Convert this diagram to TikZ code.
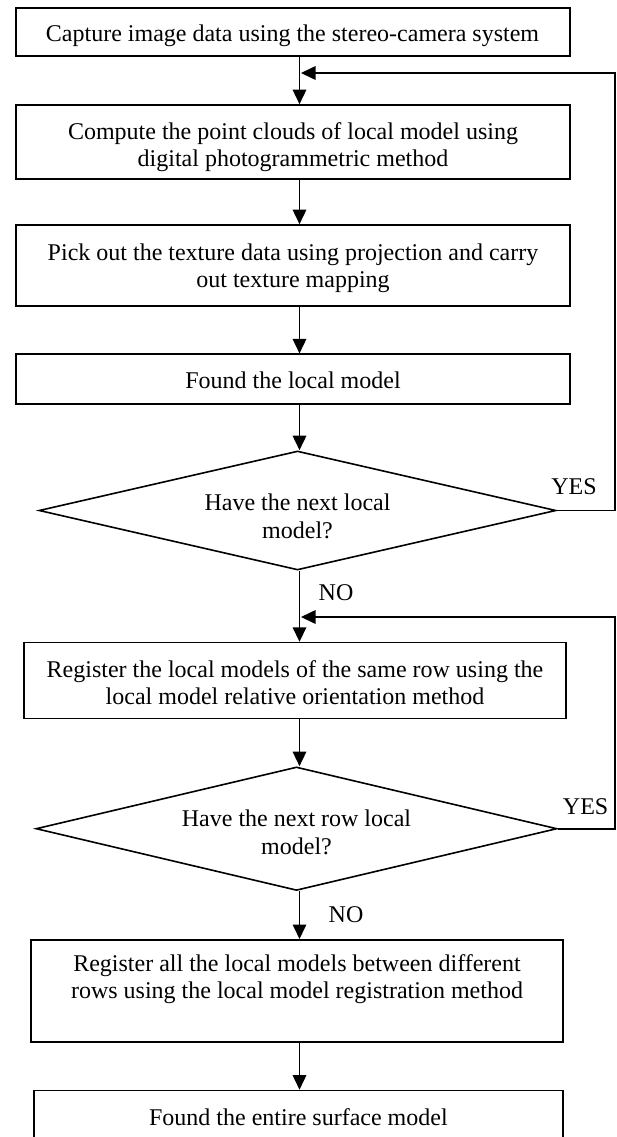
\documentclass[tikz,border=0pt]{standalone}
\usepackage{fontspec}
\setmainfont{Liberation Serif}
\usetikzlibrary{shapes.geometric,arrows.meta}
\begin{document}
\begin{tikzpicture}[x=1pt,y=-1pt,
  every node/.style={font=\fontsize{24}{27.5}\selectfont},
  box/.style={draw, line width=1.6pt, rectangle, inner sep=0pt},
  dec/.style={draw, line width=1.6pt, diamond, aspect=4.3, inner sep=0pt},
  txt/.style={inner sep=0pt, align=center},
  lbl/.style={inner sep=0pt},
  arr/.style={line width=1.6pt, -{Triangle[length=14.5pt,width=13.5pt]}}
]
\useasboundingbox (0,0) rectangle (616,1137);
\clip (0,0) rectangle (616,1137);

% shapes
\node[box, minimum width=554pt, minimum height=48pt] (b1) at (293,32) {};
\node[box, minimum width=554pt, minimum height=74pt] (b2) at (293,142) {};
\node[box, minimum width=554pt, minimum height=81pt] (b3) at (293,265.5) {};
\node[box, minimum width=554pt, minimum height=49.5pt] (b4) at (293,379) {};
\node[dec, minimum width=517pt, minimum height=119pt] (d1) at (297.5,510.5) {};
\node[box, minimum width=542pt, minimum height=76pt] (b5) at (295,680.6) {};
\node[dec, minimum width=521pt, minimum height=123.5pt] (d2) at (296.5,828.7) {};
\node[box, minimum width=531.6pt, minimum height=102.4pt] (b6) at (297,991) {};
\node[box, minimum width=529pt, minimum height=54pt] (b7) at (298.4,1117.5) {};

% texts
\node[txt] (t1) at (292.5,36) {Capture image data using the stereo-camera system};
\node[txt] (t2) at (293,147) {Compute the point clouds of local model using\\digital photogrammetric method};
\node[txt] (t3) at (293,268.5) {Pick out the texture data using projection and carry\\out texture mapping};
\node[txt] (t4) at (293,380) {Found the local model};
\node[txt] (t5) at (297.5,516.5) {Have the next local\\model?};
\node[txt] (t6) at (295,682.6) {Register the local models of the same row using the\\local model relative orientation method};
\node[txt] (t7) at (296.5,832.2) {Have the next row local\\model?};
\node[txt] (t8) at (297,979) {Register all the local models between different\\rows using the local model registration method};
\node[txt] (t9) at (298.4,1117.5) {Found the entire surface model};

\node[lbl] (yes1) at (574,487) {YES};
\node[lbl] (no1) at (336,593) {NO};
\node[lbl] (yes2) at (585.6,807) {YES};
\node[lbl] (no2) at (346,915) {NO};

\coordinate (ax) at (299.5,0);
\coordinate (r1) at (615,73);
\coordinate (j1) at (301,73);
\coordinate (r2) at (615,617);
\coordinate (j2) at (301,617);

\draw[arr] (b1.south -| ax) -- (b2.north -| ax);
\draw[arr] (b2.south -| ax) -- (b3.north -| ax);
\draw[arr] (b3.south -| ax) -- (b4.north -| ax);
\draw[arr] (b4.south -| ax) -- (d1.north -| ax);
\draw[arr] (d1.south -| ax) -- (b5.north -| ax);
\draw[arr] (b5.south -| ax) -- (d2.north -| ax);
\draw[arr] (d2.south -| ax) -- (b6.north -| ax);
\draw[arr] (b6.south -| ax) -- (b7.north -| ax);

\draw[arr] (d1.east) -| (r1) -- (j1);
\draw[arr] (d2.east) -| (r2) -- (j2);
\end{tikzpicture}
\end{document}
